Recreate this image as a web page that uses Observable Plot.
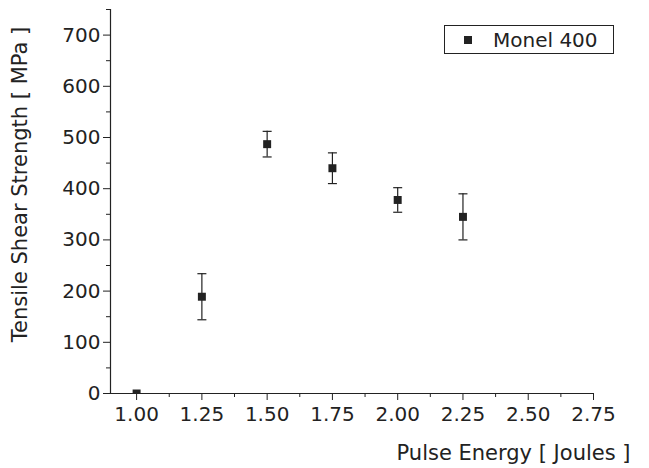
<!DOCTYPE html>
<html>
<head>
<meta charset="utf-8">
<script src="https://cdn.jsdelivr.net/npm/d3@7"></script>
<script src="https://cdn.jsdelivr.net/npm/@observablehq/plot@0.6"></script>
<style>
  html, body { margin: 0; padding: 0; background: #fff; }
  #chart { position: relative; width: 649px; height: 468px; font-family: "DejaVu Sans", sans-serif; }
  #legend { position: absolute; left: 444px; top: 25px; width: 168px; height: 27px; border: 1px solid #222;
    display: flex; align-items: center; font-size: 20px; color: #222; box-sizing: content-box; }
  #legend .sw { width: 8px; height: 8px; background: #222; margin-left: 19px; margin-right: 21px; }
</style>
</head>
<body>
<div id="chart"><div id="legend"><div class="sw"></div><span>Monel 400</span></div></div>
<script>
const energy = [1.00, 1.25, 1.50, 1.75, 2.00, 2.25];
const strength = [0, 189, 487, 440, 378, 345];
const errorBar = [0, 45, 25, 30, 24, 45];
const xTicks = [1.00, 1.25, 1.50, 1.75, 2.00, 2.25, 2.50, 2.75];
const xMinor = [1.125, 1.375, 1.625, 1.875, 2.125, 2.375, 2.625];
const yTicks = [0, 100, 200, 300, 400, 500, 600, 700];
const yMinor = [50, 150, 250, 350, 450, 550, 650, 750];
const seriesName = "Monel 400";
const xTitle = "Pulse Energy [ Joules ]";
const yTitle = "Tensile Shear Strength [ MPa ]";

const data = energy.map((e, i) => ({x: e, y: strength[i], err: errorBar[i]}));
const withErr = data.filter(d => d.err > 0);
const ink = "#222";

const capSymbol = {
  draw(context, size) {
    const w = 4.5;
    context.moveTo(-w, 0);
    context.lineTo(w, 0);
  }
};

const plot = Plot.plot({
  width: 649,
  height: 468,
  marginLeft: 110,
  marginRight: 56,
  marginTop: 9,
  marginBottom: 75,
  style: {fontFamily: '"DejaVu Sans", sans-serif', color: ink, background: "white"},
  x: {domain: [0.9, 2.75]},
  y: {domain: [0, 750]},
  marks: [
    Plot.axisX({ticks: xTicks, tickFormat: d3.format(".2f"), tickSize: 7, tickPadding: 6, fontSize: 20, label: null, stroke: ink, fill: ink}),
    Plot.axisX({ticks: xMinor, tickFormat: null, text: null, tickSize: 4, label: null, stroke: ink}),
    Plot.axisY({ticks: yTicks, tickSize: 7, tickPadding: 3, fontSize: 20, label: null, stroke: ink, fill: ink}),
    Plot.axisY({ticks: yMinor, text: null, tickSize: 4, label: null, stroke: ink}),
    Plot.ruleY([0], {stroke: ink, strokeWidth: 1.2}),
    Plot.ruleX([0.9], {stroke: ink, strokeWidth: 1.2}),
    Plot.ruleX(withErr, {x: "x", y1: d => d.y - d.err, y2: d => d.y + d.err, stroke: ink, strokeWidth: 1.2}),
    Plot.dot(withErr, {x: "x", y: d => d.y + d.err, symbol: capSymbol, stroke: ink, strokeWidth: 1.2, r: 4}),
    Plot.dot(withErr, {x: "x", y: d => d.y - d.err, symbol: capSymbol, stroke: ink, strokeWidth: 1.2, r: 4}),
    Plot.dot(data, {x: "x", y: "y", symbol: "square", fill: ink, r: 4.5, clip: true}),
    Plot.text([xTitle], {frameAnchor: "bottom-right", text: d => d, textAnchor: "end", dx: 37, dy: 66, fontSize: 21, fill: ink}),
    Plot.text([yTitle], {frameAnchor: "left", text: d => d, rotate: -90, textAnchor: "middle", dx: -90, dy: -17, fontSize: 21, fill: ink})
  ]
});
document.getElementById("chart").prepend(plot);
</script>
</body>
</html>
